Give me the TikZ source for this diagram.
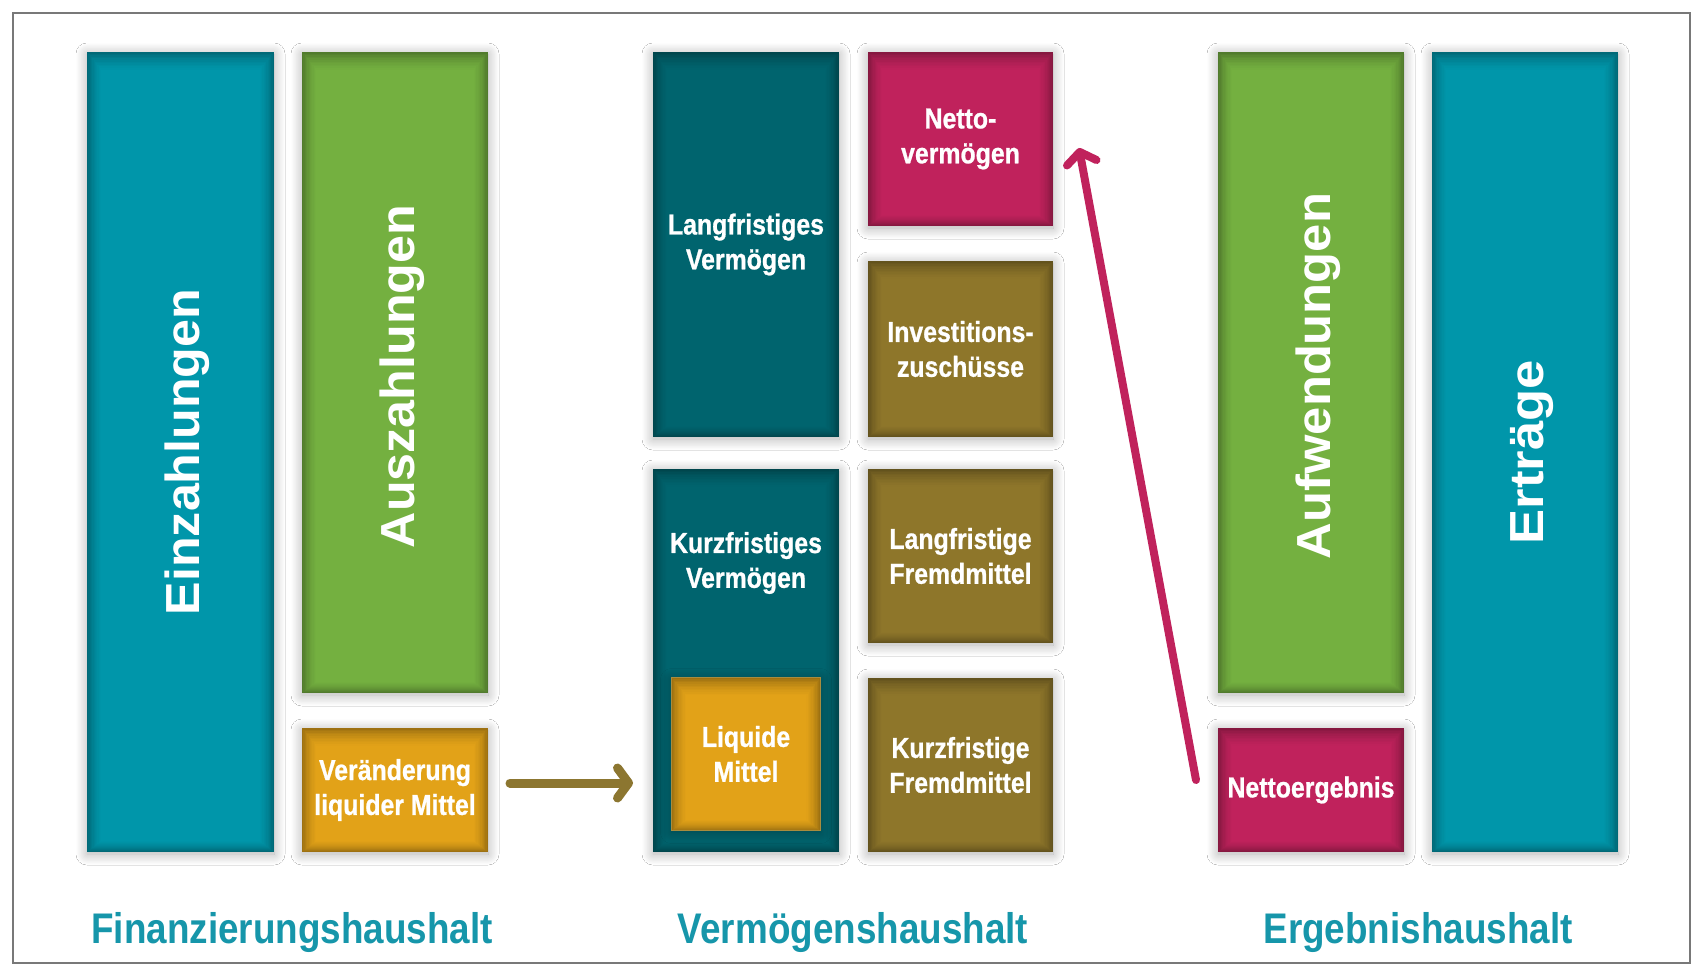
\documentclass[tikz,border=0pt]{standalone}
\usepackage{fontspec}
\setmainfont{Liberation Sans}
\newfontfamily\narrowfont{Liberation Sans Bold}[FakeStretch=0.86, FakeBold=0.8]
\newfontfamily\titlefont{Liberation Sans Bold}[FakeStretch=0.86]
\newfontfamily\vfont{Liberation Sans Bold}
\usepackage{graphicx}
\usetikzlibrary{arrows.meta,shadows.blur}
\definecolor{cTeal}{RGB}{0,150,170}
\definecolor{cGreen}{RGB}{116,176,64}
\definecolor{cDark}{RGB}{0,100,110}
\definecolor{cMag}{RGB}{192,34,92}
\definecolor{cOlive}{RGB}{142,118,42}
\definecolor{cGold}{RGB}{226,162,24}
\definecolor{cTitle}{RGB}{22,150,170}
\definecolor{cArrowO}{RGB}{140,118,48}
\definecolor{cFrame}{RGB}{120,120,120}
\tikzset{
  panel/.style={draw=none, inner sep=0pt, outer sep=0pt, fill=#1!70!black,
    blur shadow={shadow xshift=0bp, shadow yshift=-2bp, shadow blur radius=11bp, shadow opacity=32, shadow blur steps=16},
    path picture={
      \foreach \k/\p in {1/74,2/78,3/82,4/85,5/88,6/91,7/93,8/95,9/97,10/99,11/100}{
        \fill[#1!\p!black]
          ([shift={(\k*1.3bp,\k*1.0bp)}]path picture bounding box.south west)
          rectangle ([shift={(-\k*1.3bp,-\k*1.6bp)}]path picture bounding box.north east);
      }
    }},
  boxtext/.style={text=white, align=center, inner sep=0pt,
    font=\narrowfont\fontsize{29}{35}\selectfont},
  vlabel/.style={text=white, rotate=90, inner sep=0pt,
    font=\vfont\fontsize{48}{48}\selectfont},
  title/.style={text=cTitle, anchor=base, inner sep=0pt,
    font=\titlefont\fontsize{43}{43}\selectfont},
  flow/.style={line width=9bp, line cap=round,
    -{Straight Barb[length=11bp, width=30bp, round]}}
}
\begin{document}
\begin{tikzpicture}[x=1bp, y=-1bp]
\useasboundingbox (0,0) rectangle (1697,970);
\fill[white] (0,0) rectangle (1697,970);
\draw[cFrame, line width=1.8bp] (13,13) rectangle (1690,963);

% Finanzierungshaushalt
\node[panel=cTeal, minimum width=187bp, minimum height=800bp] (ein) at (180.5,452) {};
\node[panel=cGreen, minimum width=186bp, minimum height=641bp] (aus) at (395,372.5) {};
\node[panel=cGold, minimum width=186bp, minimum height=124bp] (vlm) at (395,790) {};
\node[vlabel] (einT) at ([xshift=7bp]ein.center) {\scalebox{1.05}[1]{Einzahlungen}};
\node[vlabel] (ausT) at ([xshift=7bp,yshift=-4bp]aus.center) {\scalebox{1.05}[1]{Auszahlungen}};
\node[boxtext] (vlmT) at (vlm.center) {Veränderung\\liquider Mittel};

% Vermoegenshaushalt
\node[panel=cDark, minimum width=186bp, minimum height=385bp] (lv) at (746,244.5) {};
\node[panel=cMag, minimum width=185bp, minimum height=174bp] (nv) at (960.5,139) {};
\node[panel=cOlive, minimum width=185bp, minimum height=176bp] (iz) at (960.5,349) {};
\node[panel=cDark, minimum width=186bp, minimum height=383bp] (kv) at (746,660.5) {};
\node[panel=cGold, draw={rgb,255:red,168;green,140;blue,62}, line width=1bp,
      minimum width=149bp, minimum height=153bp] (lm) at (746,754) {};
\node[panel=cOlive, minimum width=185bp, minimum height=174bp] (lf) at (960.5,556) {};
\node[panel=cOlive, minimum width=185bp, minimum height=174bp] (kf) at (960.5,765) {};
\node[boxtext] (lvT) at (lv.center) {Langfristiges\\Vermögen};
\node[boxtext] (nvT) at (nv.center) {Netto-\\vermögen};
\node[boxtext] (izT) at (iz.center) {Investitions-\\zuschüsse};
\node[boxtext] (kvT) at (746,563) {Kurzfristiges\\Vermögen};
\node[boxtext] (lmT) at (lm.center) {Liquide\\Mittel};
\node[boxtext] (lfT) at (lf.center) {Langfristige\\Fremdmittel};
\node[boxtext] (kfT) at (kf.center) {Kurzfristige\\Fremdmittel};

% Ergebnishaushalt
\node[panel=cGreen, minimum width=186bp, minimum height=641bp] (auf) at (1311,372.5) {};
\node[panel=cMag, minimum width=186bp, minimum height=124bp] (ne) at (1311,790) {};
\node[panel=cTeal, minimum width=186bp, minimum height=800bp] (ert) at (1525,452) {};
\node[vlabel] (aufT) at ([xshift=7bp,yshift=-3.5bp]auf.center) {\scalebox{1.06}[1]{Aufwendungen}};
\node[vlabel] (ertT) at ([xshift=7bp]ert.center) {\scalebox{1.1}[1]{Erträge}};
\node[boxtext] (neT) at (ne.center) {Nettoergebnis};

% Titles
\node[title] (t1) at (292,943) {Finanzierungshaushalt};
\node[title] (t2) at (853,943) {Vermögenshaushalt};
\node[title] (t3) at (1418,943) {Ergebnishaushalt};

% Arrows
\draw[flow, cArrowO] ([xshift=22bp,yshift=7bp]vlm.east) -- ([xshift=-20bp,yshift=7bp]vlm.east -| kv.west);
\draw[flow, cMag, line width=8bp] ([xshift=-22bp,yshift=10bp]ne.west) -- ([xshift=26bp,yshift=-9bp]nv.east);
\end{tikzpicture}
\end{document}
